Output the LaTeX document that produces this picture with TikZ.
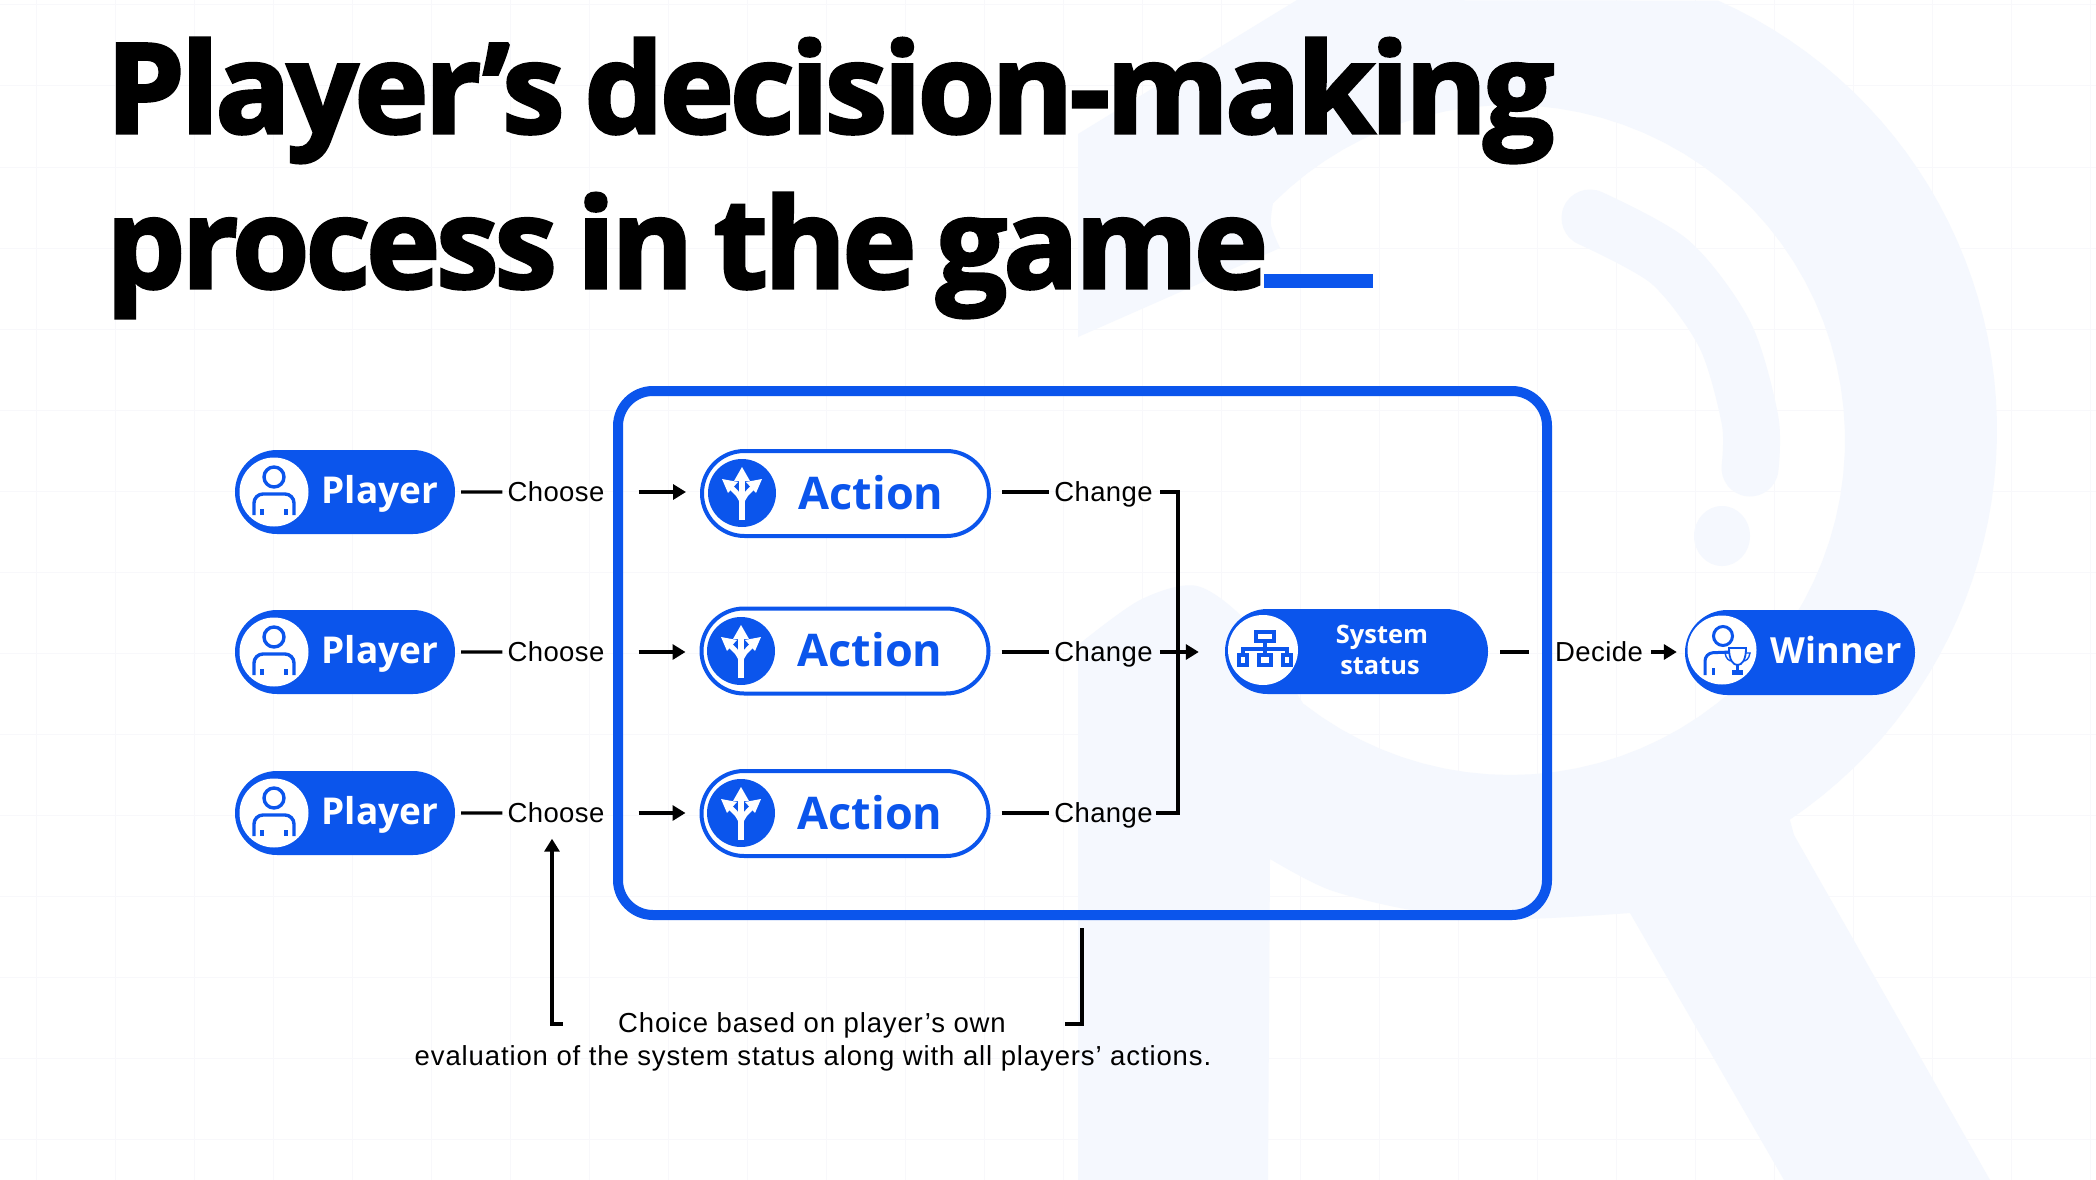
\documentclass[tikz,border=0pt]{standalone}
\usepackage{fontspec}
\usepackage{xcolor}
\usetikzlibrary{calc,arrows.meta,positioning,shapes}
\setmainfont{Liberation Sans}
\newfontfamily\lblfont[LetterSpace=1.5]{Liberation Sans}
\newfontfamily\notefont[LetterSpace=3.2]{Liberation Sans}
\newfontfamily\titlebase{Open Sans}[BoldFeatures={FakeBold=2.5,LetterSpace=-3,WordSpace=0.7}]
\newfontfamily\pillbase{Open Sans}
\newcommand{\titlefont}{\titlebase\bfseries}
\newcommand{\pillfont}{\pillbase\bfseries}
\definecolor{gameblue}{HTML}{0B55EC}
\definecolor{logotint}{HTML}{F5F8FE}
\definecolor{gridtint}{HTML}{F8F8FB}
\tikzset{
  pics/playericon/.style={code={
    \fill[white] (0,0) circle (34.5);
    \draw[gameblue,line width=3.4pt] (0,-15) circle (10);
    \draw[gameblue,line width=3.4pt,rounded corners=9pt] (-20,23) -- (-20,2) -- (20,2) -- (20,23);
    \draw[gameblue,line width=3.4pt] (-12,17) -- (-12,23);
    \draw[gameblue,line width=3.4pt] (12,17) -- (12,23);
  }},
  pics/actionicon/.style={code={
    \fill[gameblue] (0,0) circle (34);
    \draw[white,line width=6pt] (0,27) -- (0,-14);
    \fill[white] (0,-26) -- (8,-12) -- (-8,-12) -- cycle;
    \draw[white,line width=5pt] (0,12) .. controls (0,3) and (-6,0) .. (-12,-7);
    \draw[white,line width=5pt] (0,12) .. controls (0,3) and (6,0) .. (12,-7);
    \fill[white] (-20,-14) -- (-4,-11) -- (-14,0) -- cycle;
    \fill[white] (20,-14) -- (4,-11) -- (14,0) -- cycle;
  }},
  pics/systemicon/.style={code={
    \fill[white] (0,0) circle (35);
    \draw[gameblue,line width=3.5pt] (-7,-18) rectangle (11,-9);
    \draw[gameblue,line width=3.5pt] (2,-9) -- (2,5);
    \draw[gameblue,line width=3.5pt] (-20,5) -- (-20,-1) -- (24,-1) -- (24,5);
    \draw[gameblue,line width=3.5pt] (-24,5) rectangle (-16,15);
    \draw[gameblue,line width=3.5pt] (-4,5) rectangle (8,15);
    \draw[gameblue,line width=3.5pt] (20,5) rectangle (28,15);
  }},
  pics/winnericon/.style={code={
    \fill[white] (0,0) circle (34.5);
    \draw[gameblue,line width=3pt] (1,-14) circle (9.5);
    \draw[gameblue,line width=3pt,rounded corners=8pt] (-17,25) -- (-17,3) -- (9,2);
    \draw[gameblue,line width=3pt] (-9,18) -- (-9,25);
    \draw[gameblue,line width=1.4pt] (8,3) -- (3,3) .. controls (4,9) and (7,11) .. (10,11);
    \draw[gameblue,line width=1.4pt] (23,3) -- (28,3) .. controls (27,9) and (24,11) .. (21,11);
    \draw[gameblue,line width=1.8pt,fill=white] (7,-2) -- (24,-2) .. controls (24,10) and (20,15) .. (15.5,15) .. controls (11,15) and (7,10) .. (7,-2) -- cycle;
    \draw[gameblue,line width=2.4pt] (15.5,15) -- (15.5,21);
    \fill[gameblue] (10,20) rectangle (21,25);
  }}
}
\begin{document}
\begin{tikzpicture}[x=1pt,y=-1pt,
          gridline/.style={gridtint,line width=1pt},
          logoshape/.style={fill=logotint},
          playerpill/.style={rounded rectangle,fill=gameblue,inner sep=0pt,minimum width=220pt,minimum height=84pt},
          actionpill/.style={rounded rectangle,draw=gameblue,fill=white,line width=4pt,inner sep=0pt,minimum width=287pt,minimum height=85pt},
          bigbox/.style={rectangle,draw=gameblue,line width=10pt,rounded corners=35pt,inner sep=0pt,minimum width=929pt,minimum height=524pt},
          pilltext/.style={anchor=base,inner sep=0pt,text=white,font=\pillfont\fontsize{37pt}{37pt}\selectfont},
          actiontext/.style={pilltext,text=gameblue,font=\pillfont\fontsize{45pt}{45pt}\selectfont},
          systext/.style={pilltext,font=\pillfont\fontsize{25.4pt}{25.4pt}\selectfont},
          lbl/.style={inner ysep=0pt,inner xsep=5pt,text height=23pt,text depth=4pt,font=\lblfont\fontsize{27.5pt}{33pt}\selectfont},
          notelbl/.style={lbl,text height=21pt,font=\notefont\fontsize{27.5pt}{33pt}\selectfont},
          titletext/.style={anchor=base west,inner sep=0pt,font=\titlefont\fontsize{125pt}{125pt}\selectfont},
          conn/.style={black,line width=3.3pt},
          arrowconn/.style={conn,-{Triangle[length=13pt,width=15pt]}}]
        \useasboundingbox (0,0) rectangle (2096,1180);
        \fill[white] (0,0) rectangle (2096,1180);
        \draw[gridline,y=1pt,shift={(36,-5)},xstep=79,ystep=81] (-36,-1175) grid (2060,5);
        \fill[logoshape] (1078,134) -- (1297,0)
          -- plot[domain=-66:56,samples=50] ({1527+470*cos(\x)},{430+470*sin(\x)})
          -- (1794,835) -- (1990,1180) -- (1784,1180) -- (1630,913)
          -- plot[smooth] coordinates {(1630,913) (1517,919) (1417,911) (1330,890) (1270,859)}
          -- (1268,1180) -- (1078,1180) -- (1078,645)
          -- plot[smooth] coordinates {(1078,645) (1140,600) (1197,586) (1250,625) (1304,705)}
          -- plot[domain=128:-135,samples=70] ({1510+335*cos(\x)},{440+335*sin(\x)})
          -- plot[smooth] coordinates {(1273,203) (1271,225) (1280,248)}
          -- (1078,337) -- cycle;
        \draw[logotint,line width=57pt,line cap=round] plot[smooth] coordinates {(1590,218) (1670,262) (1725,335) (1750,420) (1750,468)};
        \fill[logotint] (1722,536) ellipse (28 and 30);
        \node[titletext] (title1) at (106,133) {Player’s decision-making};
        \node[titletext] (title2) at (106,288) {process in the game};
        \fill[gameblue] (1264,274) rectangle (1373,288);
        \node[bigbox] (box) at (1082.5,653) {};
        \node[playerpill] (p1) at (345,492) {};
        \node[playerpill] (p2) at (345,652) {};
        \node[playerpill] (p3) at (345,813) {};
        \pic at (274,492) {playericon};
        \pic at (274,652) {playericon};
        \pic at (274,813) {playericon};
        \node[pilltext] (pt1) at (380,503) {Player};
        \node[pilltext] (pt2) at (380,663) {Player};
        \node[pilltext] (pt3) at (380,824) {Player};
        \node[lbl] (c1) at (556,492) {Choose};
        \node[lbl] (c2) at (556,652) {Choose};
        \node[lbl] (c3) at (556,813) {Choose};
        \node[actionpill] (a1) at (845.5,493.5) {};
        \node[actionpill] (a2) at (845,651) {};
        \node[actionpill] (a3) at (845,813.5) {};
        \pic at (742,493) {actionicon};
        \pic at (741,651) {actionicon};
        \pic at (741,813) {actionicon};
        \node[actiontext] (at1) at (871,509) {Action};
        \node[actiontext] (at2) at (870,666) {Action};
        \node[actiontext] (at3) at (870,829) {Action};
        \node[lbl] (ch1) at (1103.5,492) {Change};
        \node[lbl] (ch2) at (1103.5,652) {Change};
        \node[lbl] (ch3) at (1103.5,813) {Change};
        \node[playerpill,minimum width=263pt,minimum height=85pt] (sys) at (1356.5,651.5) {};
        \pic at (1263,650) {systemicon};
        \node[systext] (st1) at (1382,643) {System};
        \node[systext] (st2) at (1380,674) {status};
        \node[lbl] (dec) at (1599,652) {Decide};
        \node[playerpill,minimum width=230pt,minimum height=85pt] (win) at (1800,652.5) {};
        \pic at (1722,650) {winnericon};
        \node[pilltext,font=\pillfont\fontsize{36pt}{36pt}\selectfont] (wt) at (1836,663) {Winner};
        \node[notelbl] (note1) at (812,1024) {Choice based on player’s own};
        \node[notelbl] (note2) at (813,1056.5) {evaluation of the system status along with all players’ actions.};
        \coordinate (bt) at (1178,492);
        \coordinate (bb) at (1178,813);
        \coordinate (fbl) at (552,1024);
        \coordinate (fbr) at (1082,1024);
        \draw[conn,shorten <=6pt] (p1) -- (c1);
        \draw[conn,shorten <=6pt] (p2) -- (c2);
        \draw[conn,shorten <=6pt] (p3) -- (c3);
        \draw[arrowconn,shorten <=29pt,shorten >=14pt] (c1) -- (a1.west |- c1);
        \draw[arrowconn,shorten <=29pt,shorten >=14pt] (c2) -- (a2.west |- c2);
        \draw[arrowconn,shorten <=29pt,shorten >=14pt] (c3) -- (a3.west |- c3);
        \draw[conn,shorten <=11pt] (a1.east |- ch1) -- (ch1.west);
        \draw[conn,shorten <=11pt] (a2.east |- ch2) -- (ch2.west);
        \draw[conn,shorten <=11pt] (a3.east |- ch3) -- (ch3.west);
        \draw[conn,shorten <=2pt,shorten >=-2pt] (ch1) -- (bt) -- (bb) -- (ch3);
        \draw[arrowconn,shorten <=2pt,shorten >=26pt] (ch2.east) -- (sys.west |- ch2);
        \draw[conn,shorten <=12pt,shorten >=21pt] (sys.east |- dec) -- (dec.west);
        \draw[arrowconn,shorten <=3pt,shorten >=8pt] (dec.east) -- (win.west |- dec);
        \draw[arrowconn,shorten <=50pt,shorten >=12pt] (note1.west) -- (fbl) -- (fbl |- c3.south);
        \draw[conn,shorten <=54pt,shorten >=8pt] (note1.east) -- (fbr) -- (fbr |- box.south);
      \end{tikzpicture}
\end{document}
